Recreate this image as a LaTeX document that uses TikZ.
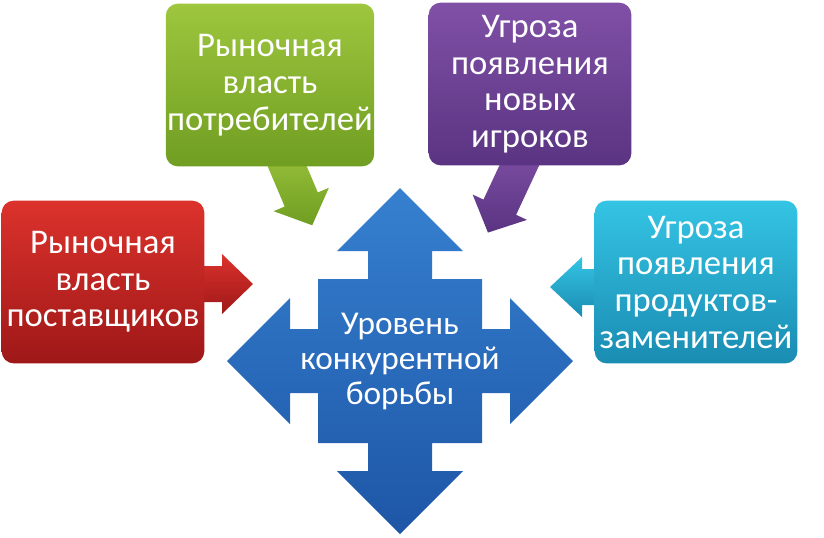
\documentclass[tikz,border=0pt]{standalone}
\usepackage{fontspec}
\setmainfont{Carlito}
\usetikzlibrary{positioning}

\definecolor{redtop}{RGB}{220,50,44}
\definecolor{redbot}{RGB}{158,24,24}
\definecolor{greentop}{RGB}{158,198,62}
\definecolor{greenbot}{RGB}{112,158,34}
\definecolor{violettop}{RGB}{128,80,166}
\definecolor{violetbot}{RGB}{90,52,130}
\definecolor{cyantop}{RGB}{52,196,228}
\definecolor{cyanbot}{RGB}{26,140,178}
\definecolor{bluetop}{RGB}{54,128,208}
\definecolor{bluebot}{RGB}{30,86,166}

\tikzstyle{box}=[rounded corners=9pt, minimum width=152pt, minimum height=122pt,
  inner sep=1pt, align=center, text=white, font=\fontsize{26}{27.5}\selectfont]
\tikzstyle{redfill}=[top color=redtop, bottom color=redbot]
\tikzstyle{greenfill}=[top color=greentop, bottom color=greenbot]
\tikzstyle{violetfill}=[top color=violettop, bottom color=violetbot]
\tikzstyle{cyanfill}=[top color=cyantop, bottom color=cyanbot]

% block arrow: style, tail, angle, length, head length
\newcommand{\blockarrow}[5]{%
  \begin{scope}[shift={#2}, rotate=#3]
    \path[#1] (0,-18) -- (#4-#5,-18) -- (#4-#5,-30) -- (#4,0)
      -- (#4-#5,30) -- (#4-#5,18) -- (0,18) -- cycle;
  \end{scope}}

\begin{document}
\begin{tikzpicture}[x=0.75pt, y=-0.75pt]
\useasboundingbox (0,0) rectangle (824,537);
% Arrows from the forces
    \blockarrow{redfill}{(196,284)}{0}{57}{31}
    \blockarrow{greenfill}{(279,147)}{-67}{85}{28}
    \blockarrow{violetfill}{(526,151)}{-115}{90}{28}
    \blockarrow{cyanfill}{(600,287)}{180}{50}{32}
% Forces
    \node[box, redfill] (supplier) at (103,282) {Рыночная\\власть\\поставщиков};
    \node[box, greenfill] (buyer) at (270,85) {Рыночная\\власть\\потребителей};
    \node[box, violetfill] (entrant) at (530,84) {Угроза\\появления\\новых\\игроков};
    \node[box, cyanfill] (substitute) at (696,282) {Угроза\\появления\\продуктов-\\заменителей};
% Central cross
    \begin{scope}[shift={(400,361)}]
    \path[top color=bluetop, bottom color=bluebot]
      (0,-173) -- (63,-110) -- (32,-110) -- (32,-82) -- (82,-82) -- (82,-32)
      -- (110,-32) -- (110,-63) -- (173,0) -- (110,63) -- (110,32) -- (82,32)
      -- (82,82) -- (32,82) -- (32,110) -- (63,110) -- (0,173) -- (-63,110)
      -- (-32,110) -- (-32,82) -- (-82,82) -- (-82,32) -- (-110,32) -- (-110,63)
      -- (-173,0) -- (-110,-63) -- (-110,-32) -- (-82,-32) -- (-82,-82)
      -- (-32,-82) -- (-32,-110) -- (-63,-110) -- cycle;
    \end{scope}
    \node[align=center, text=white, font=\fontsize{25}{26.25}\selectfont]
      (rivalry) at (400,361) {Уровень\\конкурентной\\борьбы};
\end{tikzpicture}
\end{document}
